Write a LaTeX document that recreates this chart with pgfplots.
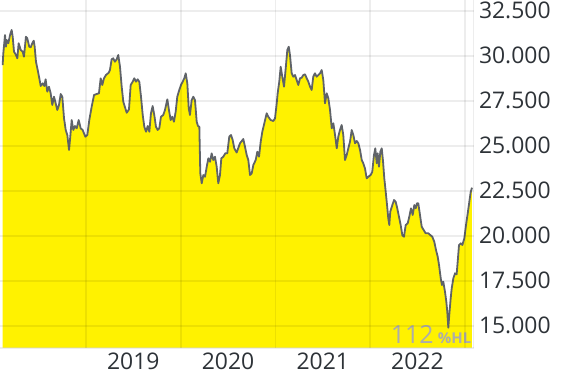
\documentclass[border=0pt]{standalone}
\usepackage{pgfplots}
\pgfplotsset{compat=1.18}
\usepackage{pgfplotstable}
\usepackage{fontspec}
\setmainfont{Open Sans}
\definecolor{areayellow}{RGB}{255,242,0}
\definecolor{linegray}{RGB}{95,99,104}
\definecolor{labelcol}{RGB}{45,50,55}
\definecolor{wmgray}{RGB}{172,172,172}
\pgfplotstableread{
x v
2018.120 29480
2018.127 30130
2018.145 31150
2018.155 30500
2018.163 30870
2018.180 30690
2018.198 31150
2018.215 31430
2018.226 31055
2018.240 30222
2018.261 30040
2018.275 29855
2018.289 30690
2018.311 30316
2018.332 30222
2018.345 29944
2018.366 31055
2018.380 30966
2018.401 30500
2018.416 30466
2018.433 30690
2018.448 30833
2018.458 30500
2018.472 29666
2018.490 29205
2018.507 28744
2018.522 28316
2018.543 28466
2018.560 28316
2018.574 28688
2018.591 28000
2018.609 28277
2018.627 27911
2018.644 27261
2018.662 27722
2018.680 27355
2018.697 26983
2018.715 27261
2018.733 27872
2018.750 27722
2018.768 26522
2018.786 25872
2018.803 25594
2018.821 24761
2018.831 25316
2018.849 26427
2018.866 25872
2018.884 26094
2018.902 25966
2018.923 26427
2018.944 25966
2018.965 25872
2018.993 25500
2019.014 25594
2019.035 26427
2019.060 27166
2019.085 27816
2019.113 27872
2019.137 27911
2019.155 28744
2019.172 28372
2019.190 28744
2019.211 28927
2019.240 29055
2019.253 29205
2019.271 29800
2019.288 29855
2019.306 29666
2019.324 29800
2019.341 30038
2019.359 29388
2019.377 28277
2019.394 27444
2019.412 27133
2019.430 26833
2019.454 27022
2019.472 28372
2019.493 28555
2019.510 28744
2019.528 28555
2019.546 28688
2019.563 28555
2019.581 27722
2019.599 26705
2019.616 26055
2019.634 25777
2019.652 26094
2019.669 25777
2019.686 26800
2019.704 27205
2019.721 26705
2019.739 26055
2019.757 25872
2019.774 25966
2019.792 26611
2019.816 26705
2019.834 26983
2019.859 27577
2019.876 26983
2019.894 26427
2019.911 26611
2019.929 26333
2019.947 26888
2019.964 27722
2019.985 28094
2020.003 28372
2020.021 28555
2020.038 28744
2020.053 29022
2020.070 28466
2020.085 27077
2020.098 26705
2020.116 27538
2020.133 27722
2020.151 27538
2020.169 26333
2020.183 26094
2020.197 26055
2020.207 23466
2020.222 22911
2020.239 23372
2020.257 23277
2020.275 23833
2020.292 24300
2020.310 24111
2020.327 24577
2020.344 24205
2020.362 24388
2020.380 23833
2020.397 22911
2020.415 23372
2020.429 24300
2020.450 24388
2020.471 24577
2020.492 24577
2020.513 25500
2020.531 25594
2020.549 25316
2020.566 24855
2020.591 24622
2020.626 25133
2020.661 25372
2020.679 24944
2020.697 24483
2020.714 24205
2020.732 23372
2020.750 23466
2020.767 23927
2020.792 24205
2020.809 24666
2020.827 24388
2020.845 25222
2020.862 25777
2020.883 26244
2020.908 26800
2020.925 26611
2020.950 26427
2020.978 26372
2020.996 26522
2021.014 27355
2021.024 27911
2021.041 28555
2021.056 29388
2021.073 28833
2021.091 28277
2021.109 29300
2021.126 30316
2021.141 30500
2021.154 30038
2021.172 29022
2021.189 28833
2021.207 28927
2021.225 28650
2021.242 28372
2021.260 28744
2021.278 28777
2021.295 28927
2021.313 28966
2021.331 28744
2021.348 28555
2021.366 28277
2021.383 28094
2021.400 28833
2021.418 29022
2021.436 28833
2021.453 28927
2021.471 29022
2021.489 29205
2021.506 28650
2021.524 27355
2021.542 27911
2021.559 27633
2021.577 26983
2021.595 25966
2021.612 26244
2021.630 25594
2021.648 24855
2021.664 25500
2021.682 25872
2021.700 26150
2021.717 25594
2021.735 24205
2021.753 24483
2021.770 24855
2021.788 25222
2021.806 25872
2021.823 25594
2021.841 25133
2021.859 25261
2021.876 25133
2021.894 24761
2021.912 24205
2021.928 24022
2021.946 23744
2021.964 23188
2021.981 23277
2022.006 23372
2022.023 23555
2022.041 24483
2022.055 24855
2022.070 24022
2022.080 24577
2022.094 23833
2022.108 24666
2022.123 24855
2022.137 24111
2022.150 23188
2022.165 22444
2022.179 21705
2022.192 20966
2022.203 20594
2022.213 21333
2022.235 21705
2022.253 21983
2022.270 21888
2022.287 21522
2022.305 21055
2022.323 20594
2022.340 20038
2022.358 19944
2022.376 20594
2022.397 20688
2022.414 21055
2022.432 21522
2022.450 21150
2022.467 21705
2022.482 21522
2022.495 21800
2022.509 21800
2022.527 21150
2022.545 20500
2022.566 20316
2022.587 20133
2022.615 20133
2022.636 20038
2022.657 19944
2022.678 19666
2022.696 19205
2022.714 18833
2022.728 18372
2022.746 17633
2022.759 17261
2022.773 17444
2022.791 16888
2022.805 16333
2022.815 15777
2022.826 14888
2022.836 15594
2022.851 16522
2022.862 17077
2022.879 17633
2022.897 17911
2022.914 17855
2022.925 18555
2022.939 19483
2022.957 19577
2022.974 19483
2022.995 19855
2023.013 20594
2023.031 21244
2023.048 21888
2023.063 22444
2023.076 22666
}\pricedata
\begin{document}
\begin{tikzpicture}
\begin{axis}[
  at={(0,0)}, anchor=south west,
  scale only axis, width=473.5bp, height=347.7bp,
  xmin=2018.092, xmax=2023.092, ymin=13780, ymax=33094,
  axis on top,
  axis x line*=bottom, axis y line*=right,
  axis line style={draw=black, draw opacity=0.07, line width=1.7bp, -},
  major tick length=0pt, minor tick length=0pt,
  xtick={2019.5,2020.5,2021.5,2022.5},
  xticklabels={2019,2020,2021,2022},
  minor xtick={2019,2020,2021,2022,2023},
  xminorgrids=true, xmajorgrids=false,
  ytick={15000,17500,20000,22500,25000,27500,30000,32500},
  ymajorgrids=true,
  grid style={draw=black, draw opacity=0.07, line width=1.7bp},
  minor grid style={draw=black, draw opacity=0.07, line width=1.7bp},
  scaled y ticks=false,
  /pgf/number format/.cd, fixed, precision=0, 1000 sep={.}, assume math mode=true,
  /pgfplots/.cd,
  tick label style={font=\fontsize{23}{27}\selectfont, text=labelcol},
  yticklabel style={anchor=west, xshift=2bp},
  xticklabel style={anchor=north, yshift=-2bp},
]
\addplot[draw=none, fill=areayellow] table[x=x, y=v] {\pricedata} \closedcycle;
\addplot[linegray, line width=1.8bp, line join=round] table[x=x, y=v] {\pricedata};
\node[anchor=base east, inner sep=0pt, text=wmgray, font=\bfseries\fontsize{15}{18}\selectfont] (hl) at ([xshift=-2bp, yshift=4.5bp]rel axis cs:1,0) {\%HL};
\node[anchor=base east, inner sep=0pt, text=wmgray, font=\fontsize{25}{29}\selectfont] at ([xshift=-4bp]hl.base west) {112};
\end{axis}
\pgfresetboundingbox
\path (0bp,-34.3bp) rectangle (570bp,347.7bp);
\end{tikzpicture}
\end{document}
